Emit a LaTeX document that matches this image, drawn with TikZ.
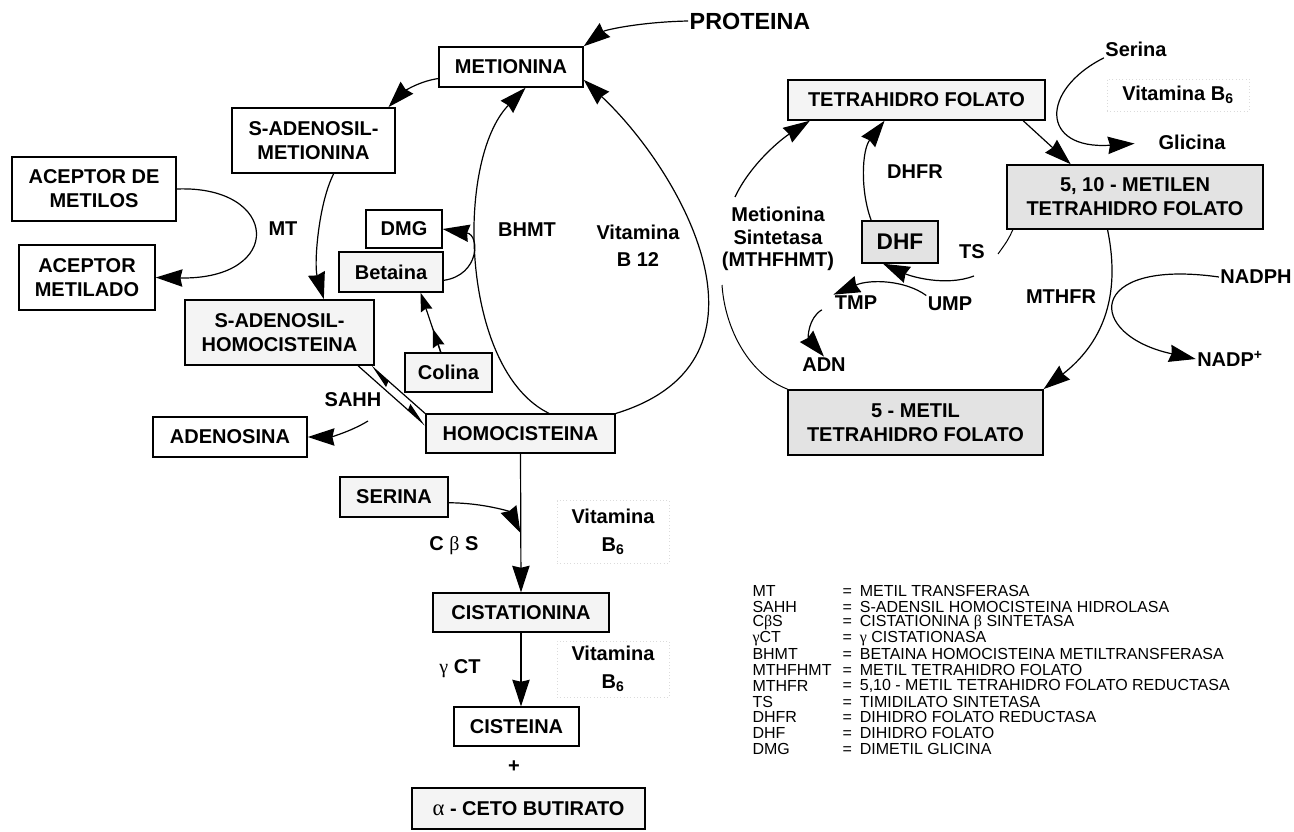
\documentclass[tikz,border=0pt]{standalone}
\usepackage{fontspec}
\setmainfont{Liberation Sans}
\newfontfamily\grk{Liberation Serif}
\usetikzlibrary{arrows.meta,calc}

\tikzset{every picture/.style={line width=0.75pt}}
\tikzset{
  box/.style={draw, line width=1.1pt, fill=white, align=center, inner sep=0pt, font=\bfseries\fontsize{15}{18}\selectfont},
  litebox/.style={box, fill=gray!9},
  darkbox/.style={box, fill=gray!22},
  lbl/.style={align=center, inner sep=0.75pt, font=\bfseries\fontsize{15}{17.5}\selectfont},
  vitbox/.style={lbl, draw=gray!28, dotted, line width=0.5pt},
  legtxt/.style={anchor=west, inner sep=0pt, font=\fontsize{12}{14}\selectfont},
  arr/.style={line width=0.9pt, -{Stealth[length=20pt,width=13pt,inset=1.5pt]}},
  arrs/.style={line width=0.9pt, -{Stealth[length=14pt,width=9pt,inset=1.5pt]}},
  harp/.style={line width=0.9pt, -{Stealth[harpoon,length=17pt,width=9pt,inset=1.5pt]}},
}

\begin{document}
\begin{tikzpicture}[x=0.75pt,y=0.75pt,yscale=-1,xscale=1]
\useasboundingbox (0,0) rectangle (1294,831);

%Shape: Rectangle [left cycle]
\node[box, minimum width=108pt, minimum height=30pt] (met) at (511,67) {METIONINA};
\node[box, minimum width=122pt, minimum height=49pt] (sam) at (313.5,140.5) {S-ADENOSIL-\\METIONINA};
\node[box, minimum width=123pt, minimum height=48pt] (acep) at (94,189) {ACEPTOR DE\\METILOS};
\node[box, minimum width=102pt, minimum height=49pt] (acepm) at (87,277.5) {ACEPTOR\\METILADO};
\node[litebox, minimum width=142pt, minimum height=49pt] (sah) at (279.5,332.5) {S-ADENOSIL-\\HOMOCISTEINA};
\node[box, minimum width=57pt, minimum height=28.5pt] (dmg) at (404,229) {DMG};
\node[litebox, minimum width=78pt, minimum height=30pt] (bet) at (391,272) {Betaina};
\node[litebox, minimum width=65pt, minimum height=29pt] (col) at (448.5,372.5) {Colina};
\node[litebox, minimum width=142pt, minimum height=29pt] (hcy) at (520.5,433.5) {HOMOCISTEINA};
\node[box, minimum width=115.5pt, minimum height=30pt] (ado) at (230,437) {ADENOSINA};
%Shape: Rectangle [transsulfuracion]
\node[litebox, minimum width=81pt, minimum height=30pt] (ser) at (394,497) {SERINA};
\node[litebox, minimum width=132pt, minimum height=29pt] (cth) at (521,612.5) {CISTATIONINA};
\node[box, minimum width=94pt, minimum height=29pt] (cys) at (516.5,726.5) {CISTEINA};
\node[litebox, minimum width=175pt, minimum height=31pt] (keto) at (528.5,808.5) {{\grk\mdseries\fontsize{17}{18}\selectfont α} - CETO BUTIRATO};
%Shape: Rectangle [folatos]
\node[litebox, minimum width=193pt, minimum height=30pt] (thf) at (916.5,100) {TETRAHIDRO FOLATO};
\node[darkbox, minimum width=192pt, minimum height=48pt] (mthf) at (1135,197) {5, 10 - METILEN\\TETRAHIDRO FOLATO};
\node[darkbox, minimum width=191pt, minimum height=49pt] (mthf5) at (915.5,422.5) {5 - METIL\\TETRAHIDRO FOLATO};
\node[darkbox, minimum width=57pt, minimum height=31.5pt, font=\bfseries\fontsize{17}{20}\selectfont] (dhf) at (900,242) {DHF};

% Text Node
\node[lbl, font=\bfseries\fontsize{17.5}{20}\selectfont] (prot) at (750,21) {PROTEINA};
\node[lbl] (mt) at (283,229) {MT};
\node[lbl] (bhmt) at (527,230) {BHMT};
\node[lbl, font=\bfseries\fontsize{15}{20}\selectfont] (b12) at (638,246) {Vitamina\\B 12};
\node[lbl] (sahh) at (353,400) {SAHH};
\node[lbl] (cbs) at (454,546) {C {\grk\mdseries β} S};
\node[lbl] (gct) at (460,669) {{\grk\mdseries γ} CT};
\node[vitbox, minimum width=84pt, minimum height=47pt, font=\bfseries\fontsize{15}{21}\selectfont] (vb6a) at (613,532) {Vitamina\\B\textsubscript{6}};
\node[vitbox, minimum width=84pt, minimum height=42pt, font=\bfseries\fontsize{15}{21}\selectfont] (vb6b) at (613,669) {Vitamina\\B\textsubscript{6}};
\node[lbl] (plus) at (514,767) {+};
\node[lbl, font=\bfseries\fontsize{15}{17}\selectfont] (mss) at (778,239) {Metionina\\Sintetasa\\(MTHFHMT)};
\node[lbl] (dhfr) at (915,172) {DHFR};
\node[lbl] (ts) at (972,252) {TS};
\node[lbl] (tmp) at (856,303) {TMP};
\node[lbl] (ump) at (950,304) {UMP};
\node[lbl] (adn) at (824,365) {ADN};
\node[lbl] (serina) at (1136,49) {Serina};
\node[vitbox, minimum width=106.5pt, minimum height=24pt] (vb6c) at (1178,95) {Vitamina B\textsubscript{6}};
\node[lbl] (glicina) at (1192,142) {Glicina};
\node[lbl] (mthfr) at (1061,297) {MTHFR};
\node[lbl] (nadph) at (1256,277) {NADPH};
\node[lbl] (nadp) at (1230,359) {NADP\textsuperscript{+}};

%Curve Lines [ciclo metionina]
\draw[arr] (prot.west) .. controls (640,22) and (605,30) .. (met.north east);
\draw[arr] (met.189) .. controls (415,82) and (400,95) .. (sam.24);
\draw[arr] (sam.301) .. controls (318,205) and (314,265) .. (sah.37);
\draw[arr] (acep.east) .. controls (280,185) and (285,280) .. (acepm.east);
\draw[arr] (bet.-9) .. controls (480,275) and (480,235) .. (dmg.east);
\draw[arrs] (col.111) -- (bet.325);
\draw[arrs] (col.111) -- ($(col.111)!0.4!(bet.325)$);
\draw[harp] (sah.-23) -- (hcy.175);
\draw[harp] (hcy.north west) -- (sah.-20);
\coordinate (adsrc) at (368,421);
\draw[arr] (adsrc) .. controls (350,432) and (330,437) .. (ado.east);
\draw[arr] (hcy.35) .. controls (460,370) and (455,160) .. (met.305);
\draw[arr] (hcy.north east) .. controls (790,360) and (680,170) .. (met.-10);

%Straight Lines [transsulfuracion]
\draw[arr] (hcy.south) -- (cth.north);
\coordinate (cbsj) at (520.5,533);
\draw[arr] (ser.-6) .. controls (485,503) and (510,512) .. (cbsj);
\draw[arr] (cth.south) -- (cth.south |- cys.north);

%Curve Lines [ciclo folatos]
\draw[arr] (thf.349) -- (mthf.153);
\draw[arr, shorten >=17pt] (serina.south west) .. controls (1040,90) and (1040,150) .. (glicina.west);
\coordinate (ts1) at (998,254);
\coordinate (ts2) at (974,276);
\draw (mthf.195) .. controls (1008,240) .. (ts1);
\draw[arr] (ts2) .. controls (945,287) and (910,276) .. (dhf.232);
\draw[arr] (ump.north west) .. controls (905,280) and (870,279) .. (tmp.north west);
\draw[arr, shorten <=10pt] (tmp.west) .. controls (808,318) and (808,338) .. (adn.north);
\draw[arr] (mthf.230) .. controls (1122,300) and (1100,345) .. (mthf5.north east);
\draw[arr] (nadph.west) .. controls (1085,258) and (1085,335) .. (nadp.west);
\coordinate (ms1) at (722,285);
\coordinate (ms2) at (735,197);
\draw (mthf5.north west) .. controls (750,375) and (725,330) .. (ms1);
\draw[arr] (ms2) .. controls (750,165) and (780,140) .. (thf.191);
\draw[arr] (dhf.143) .. controls (860,190) and (862,150) .. (thf.213);

% Text Node [leyenda]
\node[legtxt] (lg1) at (752,591) {MT};
\node[legtxt] (lg1d) at (842,591) {=\enspace METIL TRANSFERASA};
\node[legtxt] (lg2) at (752,606.8) {SAHH};
\node[legtxt] (lg2d) at (842,606.8) {=\enspace S-ADENSIL HOMOCISTEINA HIDROLASA};
\node[legtxt] (lg3) at (752,622.6) {C{\grk β}S};
\node[legtxt] (lg3d) at (842,622.6) {=\enspace CISTATIONINA {\grk β} SINTETASA};
\node[legtxt] (lg4) at (752,638.4) {{\grk γ}CT};
\node[legtxt] (lg4d) at (842,638.4) {=\enspace {\grk γ} CISTATIONASA};
\node[legtxt] (lg5) at (752,654.2) {BHMT};
\node[legtxt] (lg5d) at (842,654.2) {=\enspace BETAINA HOMOCISTEINA METILTRANSFERASA};
\node[legtxt] (lg6) at (752,670) {MTHFHMT};
\node[legtxt] (lg6d) at (842,670) {=\enspace METIL TETRAHIDRO FOLATO};
\node[legtxt] (lg7) at (752,685.8) {MTHFR};
\node[legtxt] (lg7d) at (842,685.8) {=\enspace 5,10 - METIL TETRAHIDRO FOLATO REDUCTASA};
\node[legtxt] (lg8) at (752,701.6) {TS};
\node[legtxt] (lg8d) at (842,701.6) {=\enspace TIMIDILATO SINTETASA};
\node[legtxt] (lg9) at (752,717.4) {DHFR};
\node[legtxt] (lg9d) at (842,717.4) {=\enspace DIHIDRO FOLATO REDUCTASA};
\node[legtxt] (lg10) at (752,733.2) {DHF};
\node[legtxt] (lg10d) at (842,733.2) {=\enspace DIHIDRO FOLATO};
\node[legtxt] (lg11) at (752,749) {DMG};
\node[legtxt] (lg11d) at (842,749) {=\enspace DIMETIL GLICINA};

\end{tikzpicture}
\end{document}
